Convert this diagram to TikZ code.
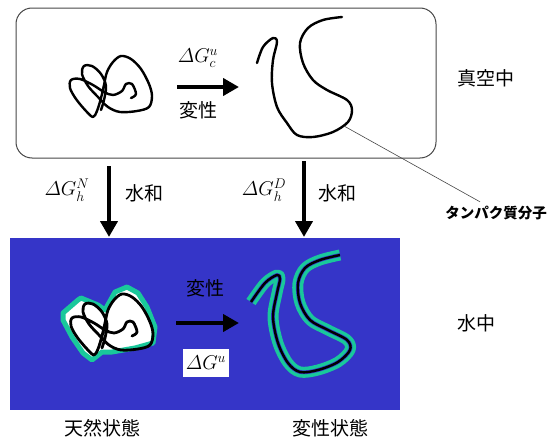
\RequirePackage{fix-cm}
\documentclass[tikz,border=0pt]{standalone}
\usepackage{amsmath}
\usepackage{fontspec}
\newfontfamily\jp{Noto Sans CJK JP}
\usetikzlibrary{arrows.meta}
\definecolor{water}{RGB}{53,53,200}
\definecolor{shell}{RGB}{25,200,155}
\definecolor{frame}{RGB}{70,70,70}

\begin{document}
\begin{tikzpicture}[x=1pt,y=-1pt,
  jtext/.style={font=\jp\fontsize{19}{19}\selectfont, inner sep=0pt},
  mtext/.style={font=\fontsize{20}{20}\selectfont, inner sep=0pt},
  bigarrow/.style={line width=4pt, -{Triangle[length=16pt,width=17pt]}},
  strand/.style={line width=2.4pt, line join=round, line cap=round},
  wetstrand/.style={draw=shell, line width=11pt, line join=round, line cap=butt,
    postaction={draw=water, line width=3.8pt},
    postaction={draw=black, line width=2.4pt}},
  pocket/.style={fill=white, draw=shell, line width=5pt, line join=round},
]
\useasboundingbox (0,0) rectangle (555,439);

% vacuum box and water bath
\draw[frame, line width=1pt, rounded corners=16pt] (16,8) rectangle (436,158);
\fill[water] (10,238) rectangle (400,410);

% ---- vacuum: native coil ----
\draw[strand] plot[smooth, tension=0.55] coordinates {
  (131,98) (136,94) (132,84) (126,84) (122,91) (113,95) (104,92) (93,85)
  (80,79) (71,80) (70,88) (76,99) (86,111) (93,117) (97,111) (101,98)
  (104,85) (107,72) (113,62) (121,56) (131,59) (141,69) (149,84) (152,96)
  (149,107) (137,111) (120,112) (108,107) (98,97) (88,86) (82,74) (84,66)
  (92,66) (101,74) (106,86) (104,100) (101,110)};

% ---- vacuum: unfolded chain ----
\draw[strand] plot[smooth, tension=0.55] coordinates {
  (257,63) (263,47) (273,38) (277,42) (273,60) (272,83) (277,107) (287,123)
  (297,135) (313,137) (333,132) (348,122) (352,110) (347,100) (327,90)
  (313,80) (303,63) (300,43) (308,28) (323,20) (342,17)};
\coordinate (touch) at (344,126);

% ---- water: hydrated native coil ----
\filldraw[pocket] (63,313) -- (78,300) -- (81,298) -- (98,305) -- (105,310)
  -- (115,292) -- (127,287) -- (138,293) -- (147,307) -- (155,327)
  -- (153,343) -- (135,348) -- (112,352) -- (102,352) -- (92,360)
  -- (83,353) -- (72,337) -- (63,320) -- cycle;
\begin{scope}[shift={(1,238)}]
\draw[strand, line width=2.8pt] plot[smooth, tension=0.55] coordinates {
  (131,98) (136,94) (132,84) (126,84) (122,91) (113,95) (104,92) (93,85)
  (80,79) (71,80) (70,88) (76,99) (86,111) (93,117) (97,111) (101,98)
  (104,85) (107,72) (113,62) (121,56) (131,59) (141,69) (149,84) (152,96)
  (149,107) (137,111) (120,112) (108,107) (98,97) (88,86) (82,74) (84,66)
  (92,66) (101,74) (106,86) (104,100) (101,110)};
\end{scope}

% ---- water: hydrated unfolded chain ----
\draw[wetstrand] plot[smooth, tension=0.55] coordinates {
  (251,302) (265,283) (277,275) (280,279) (277,293) (273,317) (278,343)
  (288,363) (300,372) (318,370) (338,362) (350,350) (347,340) (328,330)
  (310,320) (300,303) (298,283) (305,268) (320,260) (340,255)};

% ---- labels ----
\node[jtext, anchor=west] (vac) at (457,78) {真空中};
\node[jtext, anchor=west] (aq) at (457,323) {水中};
\node[font=\jp\bfseries\fontsize{14.5}{14.5}\selectfont, inner sep=0pt] (prot) at (496,213) {タンパク質分子};
\draw[frame, line width=0.6pt] (touch) -- ([xshift=35pt,yshift=4pt]prot.north west);

% top denaturation
\node[mtext] (dgc) at (198,58) {$\varDelta G^{u}_{c}$};
\node[jtext] (dentop) at (198,110) {変性};
\coordinate (ta) at (177,87);
\coordinate (tb) at (239,87);
\draw[bigarrow] (ta) -- (tb);

% hydration arrows
\coordinate (ha) at (109,166);
\coordinate (hb) at (109,237);
\coordinate (hc) at (304,161);
\coordinate (hd) at (304,237);
\draw[bigarrow] (ha) -- (hb);
\draw[bigarrow] (hc) -- (hd);
\node[mtext] (dghn) at (67,190) {$\varDelta G^{N}_{h}$};
\node[jtext] (hyd1) at (144,193) {水和};
\node[mtext] (dghd) at (264,190) {$\varDelta G^{D}_{h}$};
\node[jtext] (hyd2) at (337,193) {水和};

% bottom denaturation
\node[jtext] (denbot) at (205,288) {変性};
\coordinate (ba) at (176,323);
\coordinate (bb) at (239,323);
\draw[bigarrow] (ba) -- (bb);
\node[mtext, fill=white, minimum width=46pt, minimum height=28pt] (dgu) at (206,363) {$\varDelta G^{u}$};

% state names
\node[jtext] (nat) at (102,428) {天然状態};
\node[jtext] (den) at (330,428) {変性状態};
\end{tikzpicture}
\end{document}
